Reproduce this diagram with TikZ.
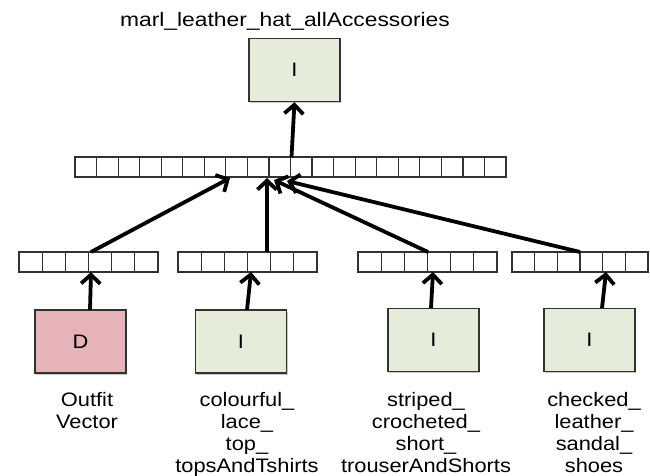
\documentclass[tikz,border=0pt]{standalone}
\usepackage{fontspec}
\setmainfont{Liberation Sans}
\newfontfamily\lblfont{Liberation Sans}[FakeStretch=1.12]
\newfontfamily\ttlfont{Liberation Sans}[FakeStretch=1.17]
\usetikzlibrary{arrows.meta,shadows}
\definecolor{boxgreen}{RGB}{229,236,217}
\definecolor{boxred}{RGB}{229,179,184}
\definecolor{edgegray}{RGB}{50,50,50}
\begin{document}
\begin{tikzpicture}[x=1pt,y=-1pt,
  unit/.style={draw=edgegray, line width=1.4pt, fill=#1, minimum width=91pt, minimum height=63pt, inner sep=0pt,
    drop shadow={shadow xshift=1.2pt, shadow yshift=-1.5pt, fill=black, opacity=0.22},
    font=\lblfont\fontsize{19.5}{22}\selectfont},
  vec/.style={draw=edgegray, line width=1.3pt, inner sep=0pt, minimum height=20pt, minimum width=#1},
  divider/.style={draw=edgegray, line width=1.2pt},
  lbl/.style={align=center, font=\lblfont\fontsize{19.5}{22}\selectfont, anchor=north, inner sep=0pt},
  arr/.style={line width=3.8pt, -{Straight Barb[length=9pt,width=19pt]}}
]
\useasboundingbox (0,0) rectangle (650,475);

% title
\node[font=\ttlfont\fontsize{19.5}{22}\selectfont, anchor=base, inner sep=0pt] (title) at (285,26) {marl\_leather\_hat\_allAccessories};

% output unit
\node[unit=boxgreen] (top) at (294.5,70) {I};

% middle vector (20 cells)
\node[vec=431pt] (bar) at (290.5,167) {};
\foreach \i in {1,...,19} \draw[divider] (75+\i*21.55,157) -- (75+\i*21.55,177);

% small vectors (6 cells each)
\node[vec=139pt] (v1) at (88.5,262) {};
\foreach \i in {1,...,5} \draw[divider] (19+\i*23.17,252) -- (19+\i*23.17,272);
\node[vec=139pt] (v2) at (247.5,262) {};
\foreach \i in {1,...,5} \draw[divider] (178+\i*23.17,252) -- (178+\i*23.17,272);
\node[vec=139pt] (v3) at (427.5,262) {};
\foreach \i in {1,...,5} \draw[divider] (358+\i*23.17,252) -- (358+\i*23.17,272);
\node[vec=136pt] (v4) at (580,262) {};
\foreach \i in {1,...,5} \draw[divider] (512+\i*22.67,252) -- (512+\i*22.67,272);

% input units
\node[unit=boxred] (d) at (80.5,341.5) {D};
\node[unit=boxgreen] (i1) at (241,341.5) {I};
\node[unit=boxgreen] (i2) at (433.5,340) {I};
\node[unit=boxgreen] (i3) at (589.5,340) {I};

% labels
\node[lbl] (ld) at (87,392) {Outfit\\Vector};
\node[lbl] (l1) at (247,392) {colourful\_\\lace\_\\top\_\\topsAndTshirts};
\node[lbl] (l2) at (426,392) {striped\_\\crocheted\_\\short\_\\trouserAndShorts};
\node[lbl] (l3) at (594,392) {checked\_\\leather\_\\sandal\_\\shoes};

% connector points
\coordinate (bt) at (291.5,157);
\coordinate (b1) at (230,178);
\coordinate (b2) at (267,178);
\coordinate (b3) at (274,180);
\coordinate (b4) at (287,181);
\coordinate (v1t) at (91,252);
\coordinate (v2t) at (267,252);
\coordinate (v3t) at (428,252);
\coordinate (v4t) at (580,252);
\coordinate (v1b) at (91,272);
\coordinate (v2b) at (251,272);
\coordinate (v3b) at (433,272);
\coordinate (v4b) at (606,272);
\coordinate (dt) at (90,310);
\coordinate (i1t) at (247,310);
\coordinate (i2t) at (431,308);
\coordinate (i3t) at (602,308);

% connectors
\draw[arr] (bt) -- (top.south);
\draw[arr] (v1t) -- (b1);
\draw[arr] (v2t) -- (b2);
\draw[arr] (v3t) -- (b3);
\draw[arr] (v4t) -- (b4);
\draw[arr] (dt) -- (v1b);
\draw[arr] (i1t) -- (v2b);
\draw[arr] (i2t) -- (v3b);
\draw[arr] (i3t) -- (v4b);
\end{tikzpicture}
\end{document}
